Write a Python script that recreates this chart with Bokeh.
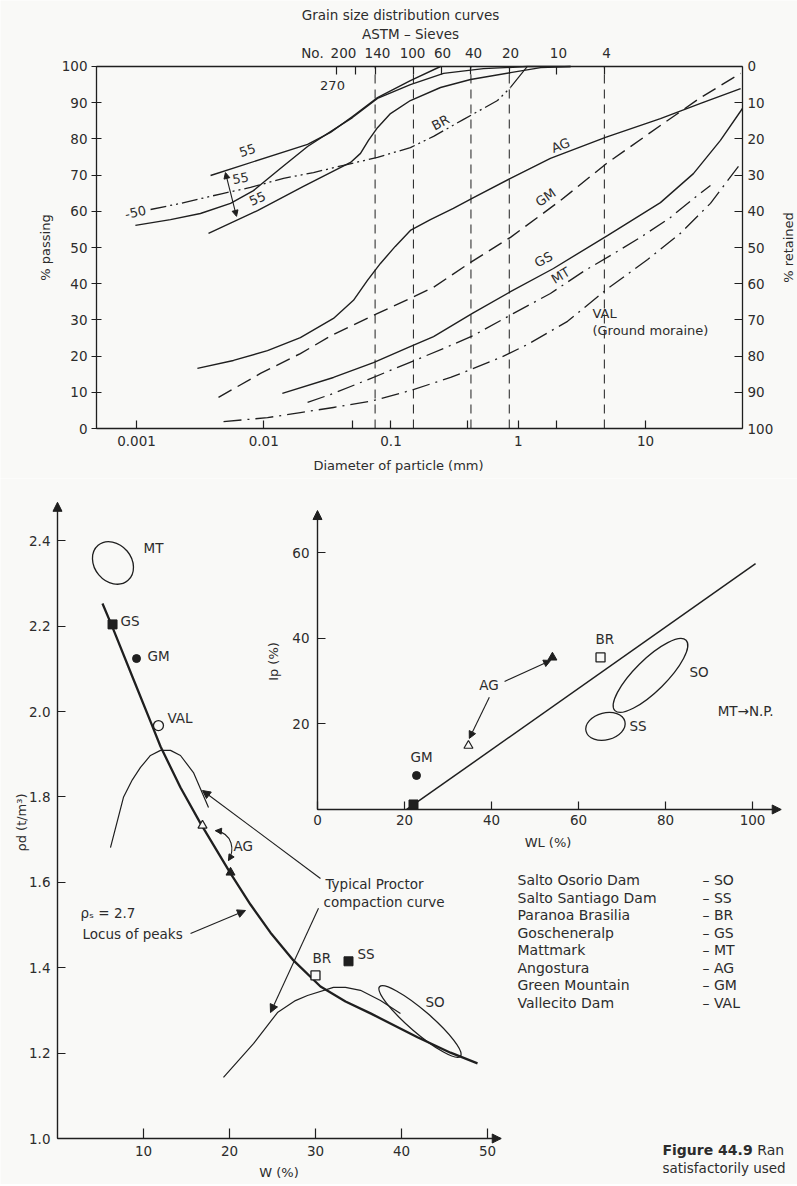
import math
from bokeh.plotting import figure
from bokeh.models import (Range1d, LinearAxis, LogAxis, FixedTicker, Arrow, NormalHead,
                          NumeralTickFormatter, CustomJSTickFormatter)
from bokeh.layouts import column
from bokeh.embed import file_html
from bokeh.resources import INLINE
from bokeh.core.properties import value

FONT = "DejaVu Sans"
INK = "#1f1f1f"
TXT = "#2c2c2c"
BG = "#f9f9f7"

# ---------------- Grain size distribution curves: diameter (mm) vs % passing ----------------
so_d = [0.00098, 0.00185, 0.00318, 0.00548, 0.0083, 0.0135, 0.0221, 0.0335, 0.0498, 0.0783, 0.142, 0.259, 0.533, 1.18, 2.58]
so_p = [56.1, 57.7, 59.4, 62.2, 65.7, 71.8, 77.9, 82.0, 85.9, 91.2, 95.0, 98.1, 99.4, 100, 100]
ss_up_d = [0.00382, 0.0221, 0.0335, 0.0498, 0.0783, 0.142, 0.245]
ss_up_p = [69.9, 78.5, 81.8, 86.2, 91.4, 96.1, 100]
ss_lo_d = [0.00368, 0.00893, 0.0205, 0.0481, 0.0576, 0.0665, 0.0783, 0.0991, 0.142, 0.245, 0.422, 0.869, 1.50, 2.58]
ss_lo_p = [53.9, 60.2, 66.9, 73.5, 76.0, 79.6, 83.1, 87.0, 90.6, 94.2, 96.4, 98.3, 99.7, 100]
br_d = [0.00129, 0.00222, 0.00474, 0.00787, 0.0143, 0.0246, 0.0424, 0.0783, 0.142, 0.216, 0.372, 0.687, 0.869]
br_p = [60.5, 62.2, 64.9, 66.6, 69.1, 70.7, 72.7, 74.9, 77.6, 80.7, 85.4, 90.6, 94.2]
br_end_d = [0.869, 1.005, 1.18]
br_end_p = [94.2, 97.0, 100]
ag_d = [0.00301, 0.00578, 0.0107, 0.0194, 0.0353, 0.0507, 0.0653, 0.0826, 0.108, 0.142, 0.204, 0.309, 0.445, 0.869, 1.79, 4.85, 13.1, 27.1, 55.9]
ag_p = [16.6, 18.8, 21.5, 25.1, 30.4, 35.4, 40.9, 45.6, 50.3, 54.7, 57.7, 60.8, 63.8, 69.1, 74.6, 80.4, 85.6, 89.8, 93.9]
gm_d = [0.00441, 0.00942, 0.0194, 0.0353, 0.0755, 0.135, 0.216, 0.422, 0.869, 2.15, 4.94, 13.1, 27.1, 55.9]
gm_p = [8.6, 15.2, 20.7, 26.0, 31.5, 35.6, 39.0, 45.9, 52.8, 63.0, 73.2, 83.7, 91.4, 98.1]
gs_d = [0.0140, 0.0353, 0.0728, 0.137, 0.216, 0.436, 0.869, 1.89, 5.02, 13.1, 23.8, 38.8, 57.8]
gs_p = [9.7, 14.1, 18.2, 22.4, 25.4, 31.8, 37.8, 44.2, 53.3, 62.4, 70.4, 79.6, 88.4]
mt_d = [0.0221, 0.0353, 0.0690, 0.135, 0.259, 0.445, 0.918, 1.79, 3.26, 5.61, 9.14, 15.7, 23.8, 32.4]
mt_p = [7.2, 9.7, 13.8, 18.0, 22.1, 25.7, 31.8, 37.3, 43.4, 48.3, 52.8, 58.3, 63.5, 67.1]
val_d = [0.00483, 0.0107, 0.0194, 0.0353, 0.0728, 0.142, 0.294, 0.726, 1.18, 2.44, 4.94, 10.4, 18.8, 32.4, 55.9]
val_p = [1.9, 3.0, 4.4, 5.8, 7.7, 10.5, 14.1, 19.6, 23.2, 29.6, 38.4, 46.7, 53.9, 62.2, 73.2]

pass_ticks = [0, 10, 20, 30, 40, 50, 60, 70, 80, 90, 100]
size_ticks = [0.001, 0.01, 0.1, 1, 10]
size_minor = [0.05, 0.4, 2.0]
sieve_lines_mm = [0.075, 0.15, 0.425, 0.85, 4.75]
sieve_ticks_mm = [0.037, 0.053, 0.075, 0.15, 0.25, 0.425, 0.85, 2.0, 4.75]
sieve_labels = ["200", "140", "100", "60", "40", "20", "10", "4"]
sieve_label_mm = [0.0423, 0.0783, 0.1476, 0.254, 0.445, 0.869, 2.07, 4.94]

curve_names = ["BR", "AG", "GM", "GS", "MT"]
curve_name_d = [0.245, 2.15, 1.64, 1.58, 2.15]
curve_name_p = [84.5, 78.2, 63.8, 46.7, 42.3]
curve_name_deg = [28, 21, 35, 28, 31]
band_names = ["55", "55", "55", "-50"]
band_name_d = [0.00745, 0.00657, 0.00893, 0.000982]
band_name_p = [76.8, 69.1, 63.5, 59.7]
band_name_deg = [18, 10, 24, 12]

# ---------------- Compaction: W (%) vs dry density (t/m3) ----------------
locus_w = [5.23, 6.40, 8.84, 10.81, 11.98, 14.30, 16.63, 20.12, 22.44, 24.77, 27.44, 30.58, 33.49, 36.40, 41.86, 45.70, 48.84]
locus_r = [2.253, 2.197, 2.075, 1.977, 1.918, 1.822, 1.738, 1.621, 1.548, 1.482, 1.417, 1.356, 1.321, 1.293, 1.237, 1.201, 1.176]
proctor1_w = [6.16, 6.98, 7.67, 8.70, 9.65, 10.81, 11.98, 13.14, 14.30, 15.81, 16.86, 17.56]
proctor1_r = [1.681, 1.745, 1.799, 1.840, 1.869, 1.897, 1.909, 1.909, 1.897, 1.857, 1.808, 1.775]
proctor2_w = [19.30, 22.79, 25.58, 27.67, 29.07, 32.09, 33.49, 35.23, 37.56, 39.88]
proctor2_r = [1.143, 1.222, 1.295, 1.323, 1.335, 1.354, 1.354, 1.347, 1.323, 1.293]
# regions (centre, extent along/perpendicular to main direction, tilt)
mt_zone = dict(w=6.45, r=2.348, width=4.3, height=0.108, angle=0.7)
so_zone = dict(w=42.15, r=1.274, width=12.4, height=0.052, angle=-0.71)
pt_filled_sq = dict(w=[6.40, 33.84], r=[2.204, 1.415])      # GS, SS
pt_open_sq = dict(w=[30.0], r=[1.382])                       # BR
pt_filled_circ = dict(w=[9.19], r=[2.124])                   # GM
pt_open_circ = dict(w=[11.74], r=[1.967])                    # VAL
pt_open_tri = dict(w=[16.86], r=[1.733])                     # AG
pt_filled_tri = dict(w=[20.12], r=[1.623])                   # AG
comp_names = ["MT", "GS", "GM", "VAL", "AG", "BR", "SS", "SO"]
comp_name_w = [10.0, 7.33, 10.47, 12.79, 20.47, 29.65, 34.88, 42.79]
comp_name_r = [2.384, 2.213, 2.131, 1.984, 1.686, 1.422, 1.433, 1.319]
w_ticks = [10, 20, 30, 40, 50]
rho_ticks = [1.0, 1.2, 1.4, 1.6, 1.8, 2.0, 2.2, 2.4]

# ---------------- Plasticity: WL (%) vs Ip (%) ----------------
aline_wl = [20.5, 100.7]
aline_ip = [0.0, 57.4]
pl_filled_sq = dict(wl=[22.07], ip=[1.17])     # GS
pl_filled_circ = dict(wl=[22.76], ip=[7.94])   # GM
pl_open_tri = dict(wl=[34.7], ip=[14.9])       # AG
pl_filled_tri = dict(wl=[54.0], ip=[35.5])     # AG
pl_open_sq = dict(wl=[65.06], ip=[35.5])       # BR
so_pl_zone = dict(wl=76.55, ip=31.3, width=23.0, height=7.4, angle=0.78)
ss_pl_zone = dict(wl=66.2, ip=19.4, width=9.2, height=6.3, angle=0.25)
pl_names = ["GM", "BR", "AG", "SO", "SS", "MT\u2192N.P."]
pl_name_wl = [21.4, 63.9, 37.2, 85.5, 71.7, 92.0]
pl_name_ip = [12.2, 39.9, 29.0, 32.0, 19.6, 23.1]
wl_ticks = [0, 20, 40, 60, 80, 100]
ip_ticks = [20, 40, 60]

legend_names = ["Salto Osorio Dam", "Salto Santiago Dam", "Paranoa Brasilia", "Goscheneralp",
                "Mattmark", "Angostura", "Green Mountain", "Vallecito Dam"]
legend_codes = ["SO", "SS", "BR", "GS", "MT", "AG", "GM", "VAL"]


def style(ax, tick_in=8, tick_out=0, standoff=6, size="13.5px"):
    ax.axis_line_color = INK
    ax.axis_line_width = 1.3
    ax.major_tick_line_color = INK
    ax.major_tick_line_width = 1.2
    ax.major_tick_in = tick_in
    ax.major_tick_out = tick_out
    ax.minor_tick_line_color = INK
    ax.minor_tick_line_width = 1.2
    ax.minor_tick_in = tick_in
    ax.minor_tick_out = tick_out
    ax.major_label_standoff = standoff
    ax.major_label_text_font = FONT
    ax.major_label_text_font_size = size
    ax.major_label_text_color = TXT
    ax.axis_label_text_font = FONT
    ax.axis_label_text_font_size = "13px"
    ax.axis_label_text_font_style = "normal"
    ax.axis_label_text_color = TXT


def curve(p, xs, ys, dash="solid", width=1.4, **kw):
    p.line(xs, ys, line_color=INK, line_width=width, line_dash=dash, line_join="round", **kw)


def texts(p, xs, ys, labels, size="13px", align="left", baseline="middle", angle=0.0, style_="normal", **kw):
    p.text(x=xs, y=ys, text=labels, angle=angle, text_font=value(FONT), text_font_size=value(size),
           text_color=TXT, text_align=align, text_baseline=baseline, text_font_style=style_, **kw)


def arrow(p, x0, y0, x1, y1, both=False, size=8, line=True, **kw):
    def head():
        return NormalHead(size=size, fill_color=INK, line_color=INK, line_width=1)
    a = Arrow(x_start=x0, y_start=y0, x_end=x1, y_end=y1, end=head(), start=head() if both else None,
              line_color=INK, line_width=1.1, line_alpha=1.0 if line else 0.0, **kw)
    p.add_layout(a)


# =============================== TOP: grain size chart ===============================
XL, XR = 4.851e-4, 57.85
top = figure(width=797, height=478, x_axis_type="log",
             x_range=Range1d(10 ** -4.06876, 10 ** 2.19450), y_range=Range1d(-13.81, 118.23),
             x_axis_location=None, y_axis_location=None, toolbar_location=None,
             output_backend="svg", min_border=0, background_fill_color=BG,
             border_fill_color=BG, outline_line_color=None)
top.grid.visible = False
top.extra_y_ranges = {"ret": Range1d(113.81, -18.23)}

ax = LinearAxis(fixed_location=XL, bounds=(0, 100), ticker=FixedTicker(ticks=pass_ticks),
                axis_label="% passing")
style(ax, tick_in=5, tick_out=5, standoff=4)
ax.axis_label_standoff = 6
top.add_layout(ax, "left")

ax = LinearAxis(y_range_name="ret", fixed_location=XR, bounds=(0, 100), ticker=FixedTicker(ticks=pass_ticks))
style(ax, tick_in=8, tick_out=0, standoff=5)
top.add_layout(ax, "right")

ax = LogAxis(fixed_location=0, bounds=(XL, XR), ticker=FixedTicker(ticks=size_ticks, minor_ticks=size_minor),
             formatter=NumeralTickFormatter(format="0.[000]"))
style(ax, tick_in=8, tick_out=0, standoff=7)
top.add_layout(ax, "below")

ax = LogAxis(fixed_location=100, bounds=(XL, XR), ticker=FixedTicker(ticks=sieve_ticks_mm),
             formatter=CustomJSTickFormatter(code="return ''"))
style(ax, tick_in=8, tick_out=0, standoff=5)
top.add_layout(ax, "above")

top.segment(x0=sieve_lines_mm, y0=[0] * len(sieve_lines_mm), x1=sieve_lines_mm, y1=[100] * len(sieve_lines_mm),
            line_color=INK, line_width=1.0, line_dash="9 6")

curve(top, so_d, so_p)
curve(top, ss_up_d, ss_up_p)
curve(top, ss_lo_d, ss_lo_p)
curve(top, br_d, br_p, dash="16 4 2 4 2 4", width=1.3)
curve(top, br_end_d, br_end_p, width=1.2)
curve(top, ag_d, ag_p)
curve(top, gm_d, gm_p, dash="15 7", width=1.4)
curve(top, gs_d, gs_p)
curve(top, mt_d, mt_p, dash="18 6 2 6", width=1.3)
curve(top, val_d, val_p, dash="18 6 2 6", width=1.3)

arrow(top, 0.00500, 70.7, 0.00611, 58.6, both=True, size=6)

texts(top, curve_name_d, curve_name_p, curve_names, align="center",
      angle=[math.radians(a) for a in curve_name_deg])
texts(top, band_name_d, band_name_p, band_names, align="center",
      angle=[math.radians(a) for a in band_name_deg])
texts(top, [3.83, 3.83], [31.8, 27.1], ["VAL", "(Ground moraine)"])
texts(top, [0.0347], [94.8], ["270"], align="center")
texts(top, sieve_label_mm, [103.6] * len(sieve_labels), sieve_labels, size="13.5px", align="center")
texts(top, [0.02415], [103.6], ["No."], size="13.5px", align="center")
texts(top, [0.1188], [114.1], ["Grain size distribution curves"], size="13.5px", align="center")
texts(top, [0.1423], [109.1], ["ASTM \u2013 Sieves"], size="13.5px", align="center")
texts(top, [0.1146], [-10.2], ["Diameter of particle (mm)"], size="13px", align="center")
texts(top, [133.0], [50], ["% retained"], size="13px", align="center", angle=math.pi / 2)

# =============================== BOTTOM: compaction + plasticity ===============================
bot = figure(width=797, height=706, x_range=Range1d(-6.628, 86.05), y_range=Range1d(0.89227, 2.5457),
             x_axis_location=None, y_axis_location=None, toolbar_location=None,
             output_backend="svg", min_border=0, background_fill_color=BG,
             border_fill_color=BG, outline_line_color=None)
bot.grid.visible = False
bot.extra_x_ranges = {"wl": Range1d(-72.87, 110.34)}
bot.extra_y_ranges = {"ip": Range1d(-87.56, 77.28)}

# compaction axes
ax = LinearAxis(fixed_location=1.0, bounds=(0, 51.5), ticker=FixedTicker(ticks=w_ticks), axis_label="W (%)",
                formatter=NumeralTickFormatter(format="0"))
style(ax, tick_in=10, tick_out=0, standoff=7)
ax.axis_label_standoff = 6
bot.add_layout(ax, "below")
ax = LinearAxis(fixed_location=0, bounds=(1.0, 2.48), ticker=FixedTicker(ticks=rho_ticks),
                axis_label="\u03c1d (t/m\u00b3)", formatter=NumeralTickFormatter(format="0.0"))
style(ax, tick_in=8, tick_out=0, standoff=7)
ax.axis_label_standoff = -3
bot.add_layout(ax, "left")
arrow(bot, 0, 1.0, 51.6, 1.0, size=9)
arrow(bot, 0, 1.0, 0, 2.49, size=9)

# plasticity axes
ax = LinearAxis(x_range_name="wl", y_range_name="ip", fixed_location=0, bounds=(0, 106),
                ticker=FixedTicker(ticks=wl_ticks), axis_label="WL (%)")
style(ax, tick_in=8, tick_out=0, standoff=6)
ax.axis_label_standoff = 6
bot.add_layout(ax, "below")
ax = LinearAxis(x_range_name="wl", y_range_name="ip", fixed_location=0, bounds=(0, 69),
                ticker=FixedTicker(ticks=ip_ticks), axis_label="Ip (%)")
style(ax, tick_in=8, tick_out=0, standoff=8)
ax.axis_label_standoff = 8
bot.add_layout(ax, "left")
arrow(bot, 0, 0, 106.6, 0, size=9, x_range_name="wl", y_range_name="ip")
arrow(bot, 0, 0, 0, 69.8, size=9, x_range_name="wl", y_range_name="ip")

# compaction content
curve(bot, locus_w, locus_r, width=2.3)
curve(bot, proctor1_w, proctor1_r, width=1.2)
curve(bot, proctor2_w, proctor2_r, width=1.2)
for z in (mt_zone, so_zone):
    bot.ellipse(x=[z["w"]], y=[z["r"]], width=[z["width"]], height=[z["height"]],
                angle=[z["angle"]], fill_color=None, line_color=INK, line_width=1.3)
bot.scatter(pt_filled_sq["w"], pt_filled_sq["r"], marker="square", size=9, fill_color=INK, line_color=INK)
bot.scatter(pt_open_sq["w"], pt_open_sq["r"], marker="square", size=9, fill_color=BG, line_color=INK, line_width=1.3)
bot.scatter(pt_filled_circ["w"], pt_filled_circ["r"], marker="circle", size=8, fill_color=INK, line_color=INK)
bot.scatter(pt_open_circ["w"], pt_open_circ["r"], marker="circle", size=10, fill_color=BG, line_color=INK, line_width=1.3)
bot.scatter(pt_open_tri["w"], pt_open_tri["r"], marker="triangle", size=9, fill_color=BG, line_color=INK, line_width=1.2)
bot.scatter(pt_filled_tri["w"], pt_filled_tri["r"], marker="triangle", size=9, fill_color=INK, line_color=INK)
texts(bot, comp_name_w, comp_name_r, comp_names, size="13.5px")
texts(bot, [2.67], [1.529], ["\u03c1\u209b = 2.7"], size="13.5px")
texts(bot, [2.91], [1.480], ["Locus of peaks"], size="13.5px")
texts(bot, [31.16, 30.93], [1.597, 1.553], ["Typical Proctor", "compaction curve"], size="13.5px")
arrow(bot, 15.47, 1.480, 21.86, 1.534, size=8)
arrow(bot, 30.58, 1.609, 16.86, 1.815, size=8)
arrow(bot, 30.35, 1.539, 24.77, 1.295, size=8)
bot.bezier(x0=[18.37], y0=[1.721], x1=[19.88], y1=[1.651], cx0=[20.47], cy0=[1.714], cx1=[20.58], cy1=[1.674],
           line_color=INK, line_width=1.1)
arrow(bot, 20.0, 1.718, 18.37, 1.721, size=6, line=False)
arrow(bot, 20.58, 1.674, 19.88, 1.651, size=6, line=False)

# plasticity content
curve(bot, aline_wl, aline_ip, width=1.5, x_range_name="wl", y_range_name="ip")
for z in (so_pl_zone, ss_pl_zone):
    bot.ellipse(x=[z["wl"]], y=[z["ip"]], width=[z["width"]], height=[z["height"]], angle=[z["angle"]],
                fill_color=None, line_color=INK, line_width=1.3, x_range_name="wl", y_range_name="ip")
bot.scatter(pl_filled_sq["wl"], pl_filled_sq["ip"], marker="square", size=9, fill_color=INK, line_color=INK,
            x_range_name="wl", y_range_name="ip")
bot.scatter(pl_filled_circ["wl"], pl_filled_circ["ip"], marker="circle", size=8, fill_color=INK, line_color=INK,
            x_range_name="wl", y_range_name="ip")
bot.scatter(pl_open_tri["wl"], pl_open_tri["ip"], marker="triangle", size=9, fill_color=BG, line_color=INK,
            line_width=1.2, x_range_name="wl", y_range_name="ip")
bot.scatter(pl_filled_tri["wl"], pl_filled_tri["ip"], marker="triangle", size=9, fill_color=INK, line_color=INK,
            x_range_name="wl", y_range_name="ip")
bot.scatter(pl_open_sq["wl"], pl_open_sq["ip"], marker="square", size=9, fill_color=BG, line_color=INK,
            line_width=1.3, x_range_name="wl", y_range_name="ip")
texts(bot, pl_name_wl, pl_name_ip, pl_names, size="13.5px", x_range_name="wl", y_range_name="ip")
arrow(bot, 43.0, 29.9, 53.6, 34.8, size=7, x_range_name="wl", y_range_name="ip")
arrow(bot, 39.5, 26.2, 34.9, 16.6, size=7, x_range_name="wl", y_range_name="ip")

# site list and caption
rows = [-16.58 - 4.086 * i for i in range(len(legend_names))]
texts(bot, [45.98] * len(rows), rows, legend_names, size="14px", x_range_name="wl", y_range_name="ip")
texts(bot, [88.5] * len(rows), rows, ["\u2013 " + c for c in legend_codes], size="14px",
      x_range_name="wl", y_range_name="ip")
texts(bot, [79.3], [-79.6], ["Figure 44.9"], size="14px", style_="bold", x_range_name="wl", y_range_name="ip")
texts(bot, [101.1], [-79.6], ["Ran"], size="14px", x_range_name="wl", y_range_name="ip")
texts(bot, [79.3], [-83.6], ["satisfactorily used"], size="13.5px", x_range_name="wl", y_range_name="ip")

layout = column(top, bot)
open("out.html", "w").write(file_html(layout, INLINE))
